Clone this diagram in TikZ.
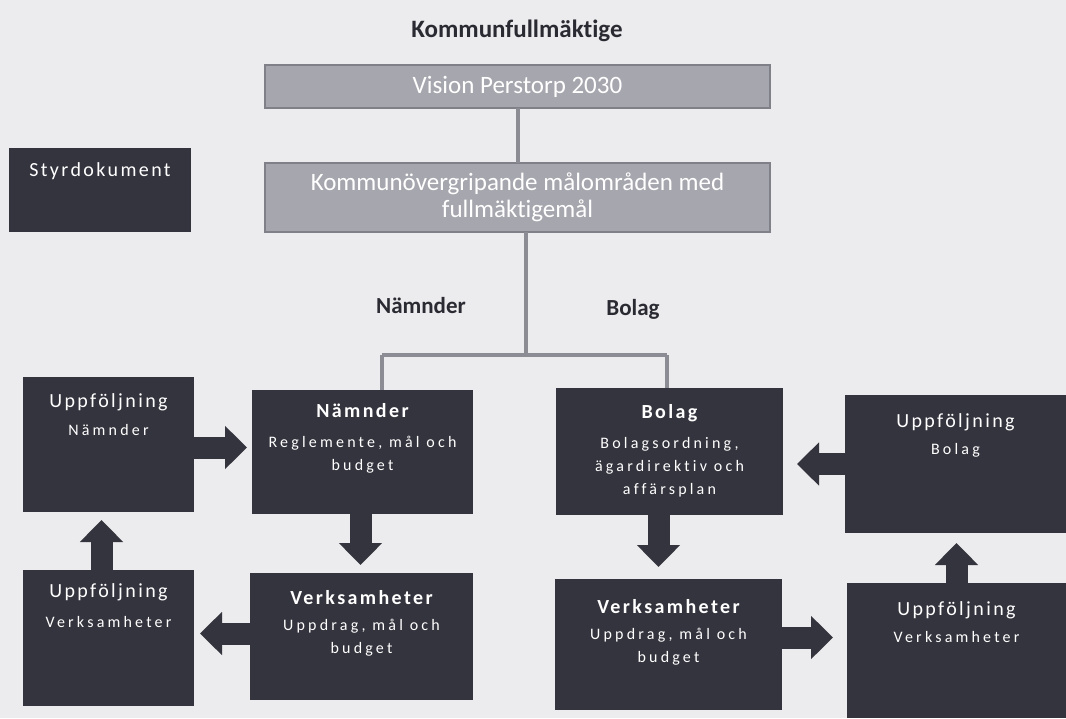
\documentclass[tikz,border=0pt]{standalone}
\usepackage{fontspec}
\setmainfont{Carlito}[Ligatures=NoCommon]
\newfontfamily\boxfont[LetterSpace=12, Ligatures=NoCommon]{Carlito}
\newfontfamily\subfont[LetterSpace=20, Ligatures=NoCommon]{Carlito}
\usepackage{tikz}
\usetikzlibrary{positioning, calc, arrows.meta}
\definecolor{slate}{RGB}{52,52,62}
\definecolor{paper}{RGB}{236,236,238}
\definecolor{pastelgray}{RGB}{166,166,174}
\definecolor{graydark}{RGB}{128,128,136}
\definecolor{connline}{RGB}{140,140,148}
\newcommand{\boxhead}[1]{{\boxfont\fontsize{20}{23}\selectfont #1}}

\begin{document}
\begin{tikzpicture}[x=1pt, y=-1pt]
\tikzstyle{darkbox}=[rectangle, fill=slate, draw=none, outer sep=0pt, inner sep=0pt]
\tikzstyle{graybox}=[rectangle, fill=pastelgray, draw=graydark, line width=2pt, outer sep=0pt, text=white, align=center, font=\fontsize{25}{27}\selectfont]
\tikzstyle{boxtext}=[inner sep=0pt, text=white, align=center, font=\subfont\fontsize{16}{23}\selectfont]
\tikzstyle{plainlabel}=[inner sep=0pt, text=slate!80!black, font=\bfseries\fontsize{23}{27}\selectfont]
\tikzstyle{conn}=[draw=connline, line width=4pt]
\tikzstyle{blockarrow}=[draw=slate, line width=22pt, -{Triangle[width=42pt, length=22pt]}]
\useasboundingbox[fill=paper] (0,0) rectangle (1066,718);
%% top part
\node (title) at (517,31) [plainlabel, font=\bfseries\fontsize{25}{27}\selectfont] {Kommunfullmäktige};
\node (vision) at (517.5,86.5) [graybox, minimum width=505pt, minimum height=43pt] {Vision Perstorp 2030};
\node (komm) at (517.5,197.5) [graybox, minimum width=505pt, minimum height=69pt] {Kommunövergripande målområden med\\fullmäktigemål};
\node (styr) at (100,190) [darkbox, minimum width=182pt, minimum height=84pt] {};
\node [below=14pt of styr.north, boxtext] (tstyr) {\boxhead{Styrdokument}};

\node (lnam) at (421,306) [plainlabel] {Nämnder};
\node (lbol) at (633,309) [plainlabel] {Bolag};

\coordinate (split) at (526,355);
\coordinate (jn) at (382,355);
\coordinate (jb) at (667,355);

%% boxes
\node (un) at (108.5,444.5) [darkbox, minimum width=171pt, minimum height=135pt] {};
\node (nn) at (362.5,452) [darkbox, minimum width=221pt, minimum height=124pt] {};
\node (uv) at (108.5,638) [darkbox, minimum width=171pt, minimum height=136pt] {};
\node (vl) at (361.5,636.5) [darkbox, minimum width=223pt, minimum height=127pt] {};
\node (bo) at (669.5,451.5) [darkbox, minimum width=227pt, minimum height=127pt] {};
\node (ub) at (955.5,464) [darkbox, minimum width=221pt, minimum height=138pt] {};
\node (rv) at (668.5,644.5) [darkbox, minimum width=227pt, minimum height=131pt] {};
\node (uvr) at (956.5,650.5) [darkbox, minimum width=219pt, minimum height=135pt] {};

\node [below=16pt of un.north, boxtext] (tun) {\boxhead{Uppföljning}\\[5pt]Nämnder};
\node [below=13pt of nn.north, boxtext] (tnn) {\boxhead{\bfseries Nämnder}\\[7pt]Reglemente, mål och\\budget};
\node [below=13pt of uv.north, boxtext] (tuv) {\boxhead{Uppföljning}\\[7pt]Verksamheter};
\node [below=17pt of vl.north, boxtext] (tvl) {\boxhead{\bfseries Verksamheter}\\[3pt]Uppdrag, mål och\\budget};
\node [below=16pt of bo.north, boxtext] (tbo) {\boxhead{\bfseries Bolag}\\[7pt]Bolagsordning,\\ägardirektiv och\\affärsplan};
\node [below=18pt of ub.north, boxtext] (tub) {\boxhead{Uppföljning}\\[4pt]Bolag};
\node [below=20pt of rv.north, boxtext] (trv) {\boxhead{\bfseries Verksamheter}\\[3pt]Uppdrag, mål och\\budget};
\node [below=18pt of uvr.north, boxtext] (tuvr) {\boxhead{Uppföljning}\\[4pt]Verksamheter};

%% connectors
\draw[conn] (vision) -- (komm);
\draw[conn] (split |- komm.south) -- (split);
\draw[conn] (jn) -- (jb);
\draw[conn] (jn) -- (jn |- nn.north);
\draw[conn] (jb) -- (jb |- bo.north);

%% arrows
\draw[blockarrow, shorten >=5pt] ([yshift=-3pt]un.east) -- ([yshift=-3pt]un.east -| nn.west);
\draw[blockarrow, shorten >=8pt] ([xshift=-2pt]nn.south) -- ([xshift=-2pt]nn.south |- vl.north);
\draw[blockarrow, shorten >=8pt] ([xshift=-7pt]uv.north) -- ([xshift=-7pt]uv.north |- un.south);
\draw[blockarrow, shorten >=6pt] ([yshift=3pt]vl.west) -- ([yshift=3pt]vl.west -| uv.east);
\draw[blockarrow, shorten >=14pt] (ub.west) -- (ub.west -| bo.east);
\draw[blockarrow, shorten >=12pt] ([xshift=-11pt]bo.south) -- ([xshift=-11pt]bo.south |- rv.north);
\draw[blockarrow, shorten >=14pt] ([yshift=7pt]rv.east) -- ([yshift=7pt]rv.east -| uvr.west);
\draw[blockarrow, shorten >=10pt] (uvr.north) -- (uvr.north |- ub.south);
\end{tikzpicture}
\end{document}
